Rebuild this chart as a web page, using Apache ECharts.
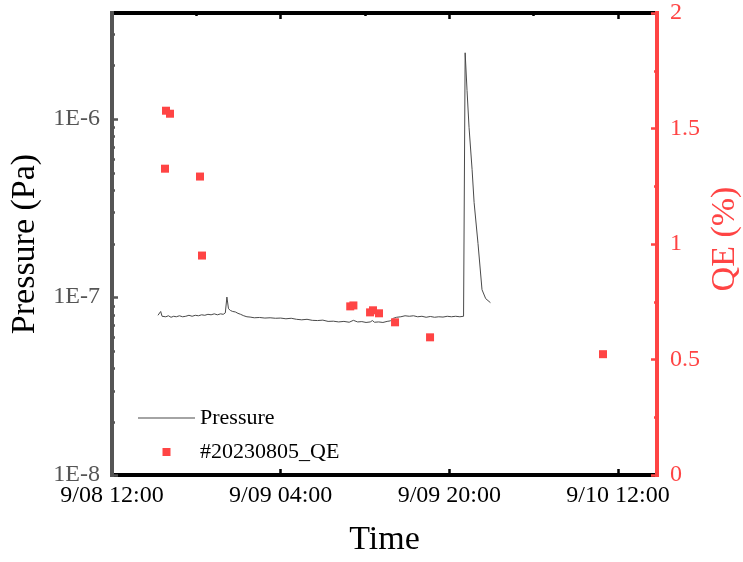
<!DOCTYPE html>
<html><head><meta charset="utf-8">
<script src="https://cdn.jsdelivr.net/npm/echarts@6/dist/echarts.min.js"></script>
<style>html,body{margin:0;padding:0;background:#fff}#c{width:743px;height:562px}</style>
</head><body><div id="c"></div>
<script>
// Time in hours since 9/08 12:00
const pressureHours = [4.36,4.5,4.62,4.75,4.9,5.1,5.35,5.6,5.85,6.1,6.4,6.7,7.0,7.3,7.6,7.9,8.2,8.5,8.8,9.1,9.4,9.7,10.0,10.3,10.55,10.75,10.9,11.05,11.25,11.45,11.7,11.95,12.2,12.5,12.8,13.1,13.5,14.0,14.5,15.0,15.5,16.0,16.5,17.0,17.5,18.0,18.5,19.0,19.5,20.0,20.5,21.0,21.5,22.0,22.5,22.9,23.3,23.7,24.1,24.5,24.7,24.9,25.3,25.7,26.1,26.4,26.7,27.0,27.4,27.8,28.2,28.6,29.0,29.4,29.8,30.2,30.6,31.0,31.4,31.8,32.2,32.6,33.0,33.35,33.5,33.68,33.87,34.16,34.35,34.72,35.1,35.45,35.9];
const pressureValues = [7.9e-8,7.8e-8,8.3e-8,7.8e-8,7.95e-8,7.75e-8,7.85e-8,7.7e-8,7.8e-8,7.75e-8,7.85e-8,7.75e-8,7.8e-8,7.9e-8,7.8e-8,7.9e-8,7.85e-8,7.95e-8,7.9e-8,8.0e-8,7.95e-8,8.05e-8,7.95e-8,8.05e-8,8.0e-8,8.15e-8,1.0e-7,8.6e-8,8.4e-8,8.3e-8,8.25e-8,8.1e-8,8.0e-8,7.85e-8,7.75e-8,7.72e-8,7.65e-8,7.68e-8,7.62e-8,7.65e-8,7.6e-8,7.62e-8,7.55e-8,7.6e-8,7.5e-8,7.45e-8,7.5e-8,7.4e-8,7.38e-8,7.42e-8,7.3e-8,7.32e-8,7.25e-8,7.3e-8,7.22e-8,7.4e-8,7.25e-8,7.28e-8,7.2e-8,7.25e-8,7.38e-8,7.22e-8,7.25e-8,7.2e-8,7.3e-8,7.35e-8,7.6e-8,7.7e-8,7.75e-8,7.85e-8,7.8e-8,7.85e-8,7.75e-8,7.8e-8,7.7e-8,7.78e-8,7.7e-8,7.75e-8,7.72e-8,7.8e-8,7.75e-8,7.8e-8,7.75e-8,7.8e-8,2.36e-6,1.45e-6,9.0e-7,5.2e-7,3.4e-7,2.0e-7,1.1e-7,9.8e-8,9.3e-8];
const qeHours = [5.12,5.5,5.03,8.35,8.54,22.6,22.9,24.48,24.76,25.33,26.85,30.17,46.58];
const qeValues = [1.577,1.564,1.326,1.292,0.950,0.730,0.734,0.704,0.713,0.700,0.661,0.596,0.523];
const xMajorTicks = [0,16,32,48];
const xMajorLabels = ['9/08 12:00','9/09 04:00','9/09 20:00','9/10 12:00'];
const xMinorTicks = [8,24,40];
const yMajorTicks = [1e-8,1e-7,1e-6];
const yMajorLabels = ['1E-8','1E-7','1E-6'];
const yMinorTicks = [2e-8,3e-8,4e-8,5e-8,6e-8,7e-8,8e-8,9e-8,2e-7,3e-7,4e-7,5e-7,6e-7,7e-7,8e-7,9e-7,2e-6,3e-6];

const FONT = '"Liberation Serif", "Times New Roman", serif';
const RED = '#ff4444';
const GRAY = '#555555';
const X_MAX = 51.7, Y_MIN = 1e-8, Y_MAX = 3.95e-6;
const gridRect = {left:112, right:86, top:13, bottom:86};

function xAxisBase(gridIndex, position, ticks, len, showLine, showLabel) {
  return {
    type:'value', gridIndex, position, min:0, max:X_MAX, z:2,
    axisLine:{show:showLine, onZero:false, lineStyle:{color:'#000', width:4}},
    axisTick:{show:true, inside:true, length:len, customValues:ticks, lineStyle:{color:'#000', width:2.5}},
    axisLabel:{show:showLabel, customValues:ticks, margin:9, fontFamily:FONT, fontSize:24, color:'#000',
      formatter:v => { const i = xMajorTicks.indexOf(v); return i >= 0 ? xMajorLabels[i] : ''; }},
    splitLine:{show:false}, minorTick:{show:false}
  };
}

const chart = echarts.init(document.getElementById('c'), null, {renderer:'canvas'});
chart.setOption({
  animation:false,
  backgroundColor:'#fff',
  grid:[Object.assign({containLabel:false}, gridRect), Object.assign({containLabel:false}, gridRect)],
  xAxis:[
    Object.assign(xAxisBase(0,'bottom',xMajorTicks,6,true,true), {name:'Time', nameLocation:'middle', nameGap:48,
      nameTextStyle:{fontFamily:FONT, fontSize:34, color:'#000'}}),
    xAxisBase(0,'top',xMajorTicks,6,true,false),
    xAxisBase(1,'bottom',xMinorTicks,3,false,false),
    xAxisBase(1,'top',xMinorTicks,3,false,false)
  ],
  yAxis:[
    {type:'log', gridIndex:0, position:'left', min:Y_MIN, max:Y_MAX, logBase:10, z:3,
      axisLine:{show:true, onZero:false, lineStyle:{color:GRAY, width:4, cap:'square'}},
      axisTick:{show:true, inside:true, length:6, customValues:yMajorTicks, lineStyle:{color:GRAY, width:2.5}},
      axisLabel:{customValues:yMajorTicks, margin:12, fontFamily:FONT, fontSize:24, color:GRAY,
        formatter:v => { const i = yMajorTicks.findIndex(t => Math.abs(t - v) / t < 1e-6); return i >= 0 ? yMajorLabels[i] : ''; }},
      splitLine:{show:false}, minorTick:{show:false}},
    {type:'value', gridIndex:0, position:'right', min:0, max:2, interval:0.5, z:3,
      axisLine:{show:true, onZero:false, lineStyle:{color:RED, width:4, cap:'square'}},
      axisTick:{show:true, inside:true, length:6, lineStyle:{color:RED, width:2.5}},
      minorTick:{show:true, splitNumber:2, length:3, lineStyle:{color:RED, width:2.5}},
      axisLabel:{margin:13, fontFamily:FONT, fontSize:24, color:RED},
      splitLine:{show:false}, minorSplitLine:{show:false}},
    {type:'log', gridIndex:1, position:'left', min:Y_MIN, max:Y_MAX, logBase:10, z:3,
      axisLine:{show:false, onZero:false},
      axisTick:{show:true, inside:true, length:3, customValues:yMinorTicks, lineStyle:{color:GRAY, width:2.5}},
      axisLabel:{show:false}, splitLine:{show:false}, minorTick:{show:false}}
  ],
  legend:{
    orient:'vertical', left:133, top:401, itemWidth:57, itemHeight:8, itemGap:10,
    symbolKeepAspect:true,
    textStyle:{fontFamily:FONT, fontSize:22, color:'#000', lineHeight:24},
    data:[
      {name:'Pressure', icon:'path://M0 0H57V1H0Z'},
      {name:'#20230805_QE', icon:'path://M0 0H10V10H0Z'}
    ]
  },
  graphic:[
    {type:'text', x:25, y:244, rotation:Math.PI/2, silent:true,
      style:{text:'Pressure (Pa)', fontFamily:FONT, fontSize:34, fill:'#000', align:'center', verticalAlign:'middle'}},
    {type:'text', x:725, y:239, rotation:Math.PI/2, silent:true,
      style:{text:'QE (%)', fontFamily:FONT, fontSize:34, fill:RED, align:'center', verticalAlign:'middle'}}
  ],
  series:[
    {name:'Pressure', type:'line', xAxisIndex:0, yAxisIndex:0, showSymbol:false, symbol:'none',
      lineStyle:{color:'#4a4a4a', width:1}, itemStyle:{color:'#4a4a4a'}, z:2,
      data: pressureHours.map((h,i) => [h, pressureValues[i]])},
    {name:'#20230805_QE', type:'scatter', xAxisIndex:0, yAxisIndex:1, symbol:'rect', symbolSize:8,
      itemStyle:{color:RED, opacity:1}, z:3,
      data: qeHours.map((h,i) => [h, qeValues[i]])}
  ]
});
</script>
</body></html>
